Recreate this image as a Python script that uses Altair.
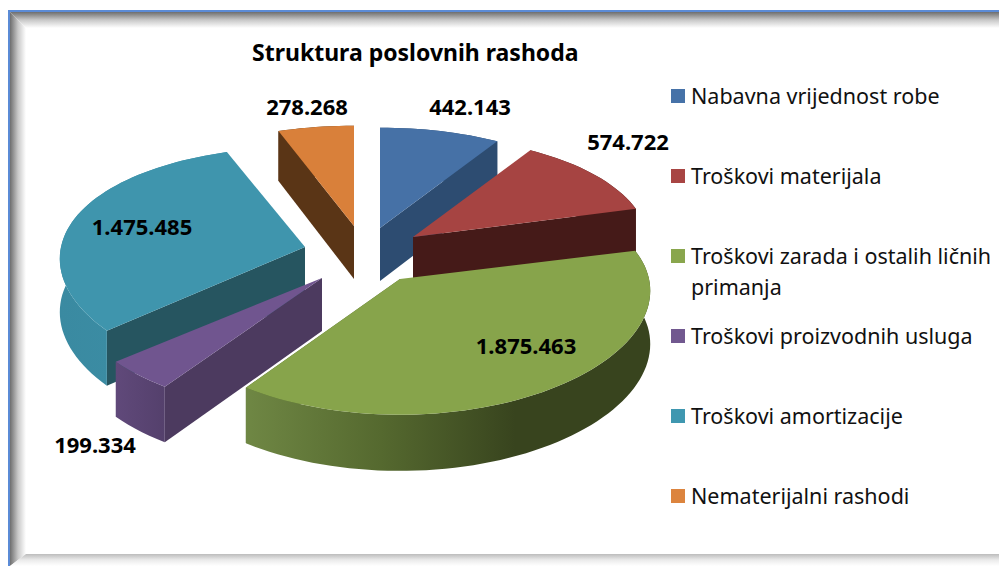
import math
import altair as alt
import pandas as pd

# ---- data
categories = ["Nabavna vrijednost robe", "Troškovi materijala",
              "Troškovi zarada i ostalih ličnih\nprimanja",
              "Troškovi proizvodnih usluga", "Troškovi amortizacije",
              "Nematerijalni rashodi"]
values = [442143, 574722, 1875463, 199334, 1475485, 278268]
value_labels = ["442.143", "574.722", "1.875.463", "199.334", "1.475.485", "278.268"]
title_text = "Struktura poslovnih rashoda"

# ---- styles
top_colors = ["#4671a6", "#a64442", "#87a44b", "#70558f", "#3f95ad", "#d9803a"]
legend_colors = ["#4672a8", "#a84543", "#89a64d", "#71588f", "#3f97b0", "#dc843e"]
cut_colors = ["#2d4c71", "#451a18", "#556b2f", "#4c3a5f", "#265560", "#5a3516"]
side_stops = [
    ["#2d4c71", "#2d4c71"], ["#451a18", "#451a18"],
    ["#6f8744", "#38441e"], ["#60497a", "#54406c"],
    ["#3a8aa1", "#3d90a8"], ["#5a3516", "#5a3516"],
]

# ---- layout (page pixels; the chart origin is at 8,8)
W, H = 991, 558
apex = [(380, 228), (413, 237), (400, 279), (322, 278), (305, 247), (354, 226)]
RXS = [236, 236, 249, 254, 244, 236]
RY, KX, KY = 118, 0.10, 0.15
DEPTH = 53
draw_order = [5, 0, 1, 4, 3, 2]
x_scale = alt.Scale(domain=[0, W], nice=False, zero=False)
y_scale = alt.Scale(domain=[H, 0], nice=False, zero=False)


def poly(points, fill):
    df = pd.DataFrame({
        "x": [p[0] - 8 for p in points] + [points[0][0] - 8],
        "y": [p[1] - 8 for p in points] + [points[0][1] - 8],
        "i": list(range(len(points) + 1)),
    })
    return alt.Chart(df).mark_line(fill=fill, strokeWidth=0, strokeOpacity=0).encode(
        x=alt.X("x:Q", scale=x_scale, axis=None),
        y=alt.Y("y:Q", scale=y_scale, axis=None),
        order="i:Q",
    )


def grad(stops, x1=0, x2=1, y1=0, y2=0):
    n = len(stops) - 1
    return alt.Gradient(
        gradient="linear", x1=x1, x2=x2, y1=y1, y2=y2,
        stops=[alt.GradientStop(offset=i / n, color=c) for i, c in enumerate(stops)],
    )


def outer(ax, ay, deg, rx):
    t = math.radians(deg)
    c, s = math.cos(t), math.sin(t)
    return (ax + rx * s * (1 - KX * c), ay - RY * c * (1 - KY * c))


def drop(p, deg):
    c = math.cos(math.radians(deg))
    return (p[0], p[1] + DEPTH * (1 - 0.06 * c))


total = sum(values)
edges = [0]
for v in values:
    edges.append(edges[-1] + 360 * v / total)

layers = []
# frame shadow, mitred at the corners
layers.append(poly([(10, 12), (26, 28), (26, 554), (10, 566)], grad(["#6e6e6e", "#c8c8c8", "#ffffff"])))
layers.append(poly([(10, 12), (999, 12), (999, 28), (26, 28)], grad(["#6e6e6e", "#c8c8c8", "#ffffff"], 0, 0, 0, 1)))
layers.append(poly([(10, 566), (999, 566), (999, 554), (26, 554)], grad(["#bcbcbc", "#ebebeb", "#ffffff"], 0, 0, 0, 1)))
layers.append(poly([(8, 10), (999, 10), (999, 12), (8, 12)], "#5b8bd6"))
layers.append(poly([(8, 10), (10, 10), (10, 566), (8, 566)], "#5b8bd6"))

for k in draw_order:
    ax, ay = apex[k]
    rx = RXS[k]
    a0, a1 = edges[k], edges[k + 1]
    steps = max(6, int((a1 - a0) / 2))
    degs = [a0 + (a1 - a0) * i / steps for i in range(steps + 1)]
    arc = [outer(ax, ay, d, rx) for d in degs]
    low = [drop(p, d) for p, d in zip(arc, degs)]
    a_low = (ax, ay + DEPTH)
    # the radial face that looks towards the viewer
    cut_deg = a1 if a0 + (a1 - a0) / 2 < 180 else a0
    cut_pt = outer(ax, ay, cut_deg, rx)
    layers.append(poly([(ax, ay), cut_pt, drop(cut_pt, cut_deg), a_low], cut_colors[k]))
    # curved wall
    wall = grad(side_stops[k]) if k != 2 else grad(["#38441e", "#38441e", "#55692f", "#6f8744"], 1, 0)
    layers.append(poly(arc + low[::-1], wall))
    # top
    layers.append(poly([(ax, ay)] + arc, top_colors[k]))

# value labels
label_df = pd.DataFrame({
    "t": value_labels,
    "x": [470, 628, 526, 95, 142, 307],
    "y": [108, 143, 347, 446, 228, 108],
})
label_df["x"] -= 8
label_df["y"] -= 8
layers.append(alt.Chart(label_df).mark_text(font="Noto Sans", fontWeight="bold", fontSize=22, color="#000000").encode(
    x=alt.X("x:Q", scale=x_scale, axis=None), y=alt.Y("y:Q", scale=y_scale, axis=None), text="t:N"))

# legend
leg_df = pd.DataFrame({
    "name": categories,
    "c": legend_colors,
    "y": [96 - 8 + 80 * i for i in range(len(categories))],
    "ty": [98 - 8 + 80 * i for i in range(len(categories))],
})
layers.append(alt.Chart(leg_df).mark_square(size=196, opacity=1, filled=True).encode(
    x=alt.value(678 - 8), y=alt.Y("y:Q", scale=y_scale, axis=None),
    color=alt.Color("c:N", scale=None, legend=None)))
layers.append(alt.Chart(leg_df).mark_text(font="Noto Sans", fontSize=21.5, align="left", baseline="middle",
                                          lineBreak="\n", lineHeight=31, color="#111111").encode(
    x=alt.value(691 - 8), y=alt.Y("ty:Q", scale=y_scale, axis=None), text="name:N"))

chart = alt.layer(*layers).properties(
    width=W, height=H, autosize=alt.AutoSizeParams(type="none"), padding=0,
    title=alt.TitleParams(title_text, anchor="start", font="Noto Sans", fontWeight="bold", fontSize=23,
                          color="#000000", dx=244, dy=58, offset=0),
).configure_view(stroke=None)

chart.save("out.html", embed_options={"renderer": "svg", "actions": False})
